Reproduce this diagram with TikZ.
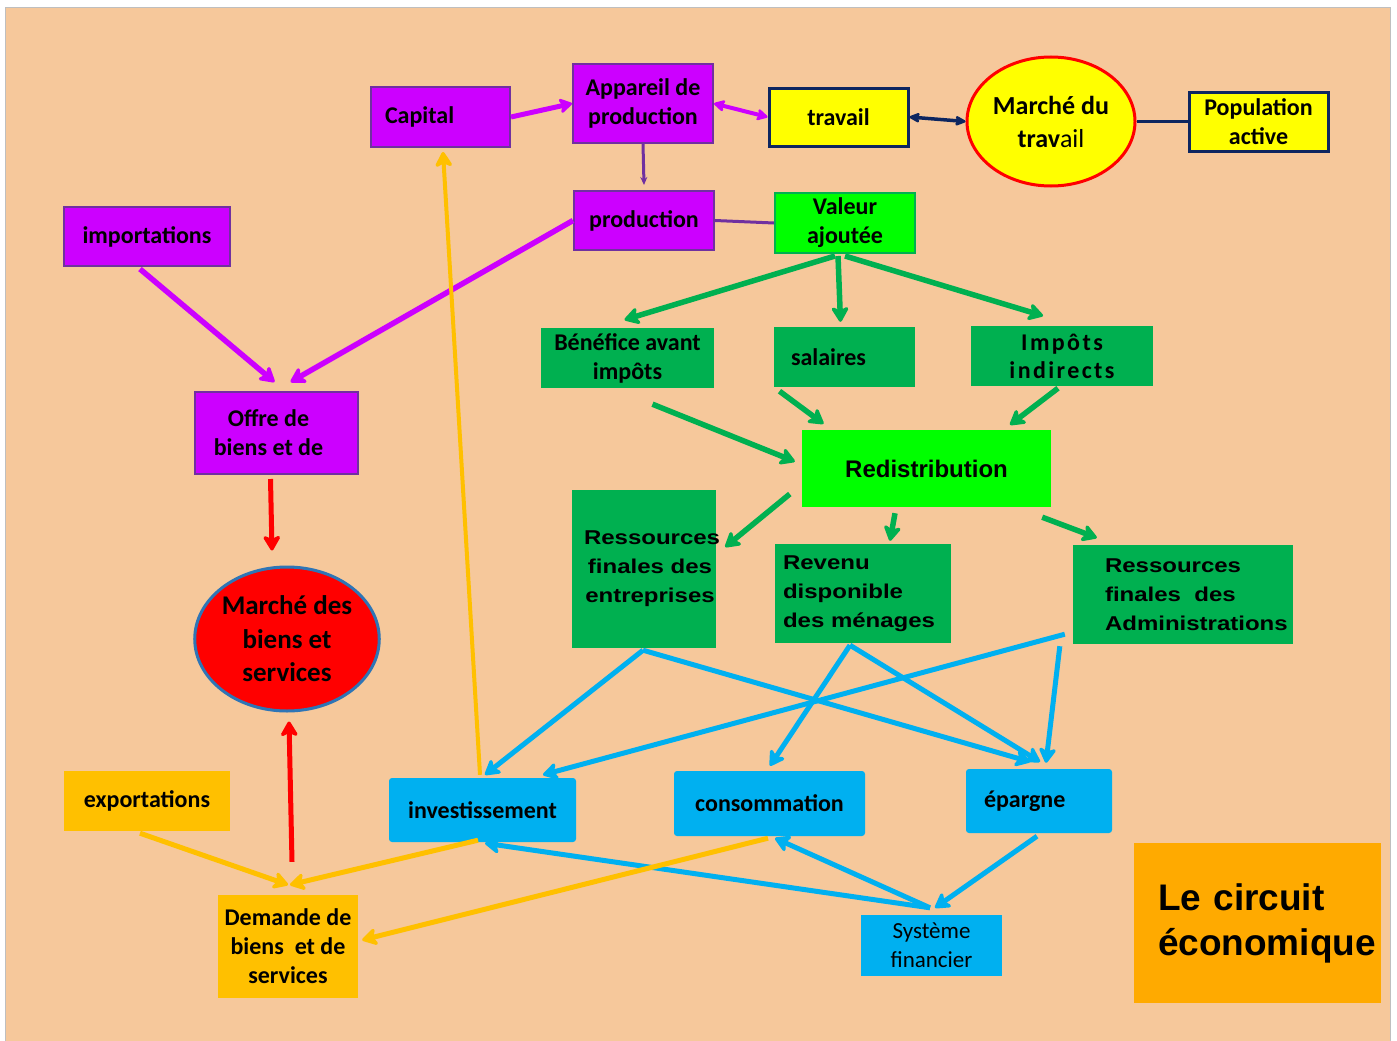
\documentclass[tikz,border=0pt]{standalone}
\usepackage{fontspec}
\setmainfont{Carlito}
\newfontfamily\arialS[FakeStretch=1.2]{Liberation Sans}
\newfontfamily\arialN{Liberation Sans}
\usetikzlibrary{arrows.meta,shapes.geometric,calc}
\definecolor{bg}{HTML}{F6C89B}
\definecolor{purp}{HTML}{CC00FF}
\definecolor{purpd}{HTML}{7030A0}
\definecolor{yel}{HTML}{FFFF00}
\definecolor{navy}{HTML}{0D2660}
\definecolor{lgreen}{HTML}{00FF00}
\definecolor{dgreen}{HTML}{00B050}
\definecolor{cyanb}{HTML}{00B0F0}
\definecolor{gold}{HTML}{FFC000}
\definecolor{orng}{HTML}{FFAA00}
\definecolor{ellb}{HTML}{2E75B6}
\newcommand\cbf{\fontsize{24}{29}\selectfont\bfseries}
\tikzset{
  box/.style={rectangle, inner sep=0pt, align=center, font=\cbf, text=black},
  pbox/.style={box, fill=purp, draw=purpd, line width=2pt},
  ybox/.style={box, fill=yel, draw=navy, line width=3pt},
  gbox/.style={box, fill=dgreen},
  lgbox/.style={box, fill=lgreen, draw=dgreen, line width=2pt},
  bbox/.style={box, fill=cyanb, rounded corners=3pt},
  obox/.style={box, fill=gold},
  afont/.style={font=\arialS\fontsize{20}{29}\selectfont\bfseries},
  tip/.style={-{Stealth[length=18pt,width=21pt,inset=5pt,round]}},
  pa/.style={tip, draw=purp, line width=5.5pt},
  ga/.style={tip, draw=dgreen, line width=5.5pt},
  ba/.style={tip, draw=cyanb, line width=5pt},
  ya/.style={tip, draw=gold, line width=5pt},
  ra/.style={tip, draw=red, line width=5pt},
}
\begin{document}
\begin{tikzpicture}[x=1pt,y=-1pt]
\useasboundingbox (0,0) rectangle (1397,1041);
\fill[white] (0,0) rectangle (1397,1041);
\fill[bg] (5,7) rectangle (1390,1041);
\draw[black!25, line width=0.8pt] (5,1041) -- (5,7) -- (1390,7) -- (1390,1041);

% nodes
\node[pbox, minimum width=139, minimum height=60, text width=111pt, inner xsep=14pt, align=left] (cap) at (440.5,117) {Capital};
\node[pbox, minimum width=140, minimum height=79] (app) at (643,103.5) {Appareil de\\production};
\node[ybox, minimum width=139, minimum height=58] (trav) at (838.5,117) {travail};
\node[ellipse, fill=yel, draw=red, line width=3pt, minimum width=168, minimum height=129, inner sep=0pt, align=center, font=\fontsize{26}{33}\selectfont] (mdt) at (1051,121.5) {\textbf{Marché du}\\\textbf{trav}ail};
\node[ybox, minimum width=139, minimum height=59] (pop) at (1258.5,121.5) {Population\\active};
\node[pbox, minimum width=140, minimum height=59] (prod) at (644,220.5) {production};
\node[lgbox, minimum width=140, minimum height=60] (va) at (845,223) {Valeur\\ajoutée};
\node[pbox, minimum width=166, minimum height=59] (imp) at (147,236.5) {importations};
\node[pbox, minimum width=163, minimum height=82] (off) at (276.5,433) {\hspace*{-16pt}Offre de\\\hspace*{-16pt}biens et de};
\node[gbox, minimum width=173, minimum height=60] (ben) at (627.5,358) {Bénéfice avant\\impôts};
\node[gbox, minimum width=141, minimum height=60, text width=107pt, inner xsep=17pt, align=left] (sal) at (844.5,357) {salaires};
\node[gbox, minimum width=182, minimum height=60, font=\addfontfeature{LetterSpace=10}\fontsize{24}{28}\selectfont\bfseries] (impi) at (1062,356) {Impôts\\indirects};
\node[box, fill=lgreen, minimum width=249, minimum height=77, font=\arialN\fontsize{24}{28}\selectfont\bfseries] (red) at (926.5,468.5) {Redistribution};
\node[gbox, afont, minimum width=144, minimum height=158, text width=144pt, inner xsep=0pt] (rfe) at (644,569) {\hspace*{12pt}Ressources\\\hspace*{12pt}finales des\\\hspace*{12pt}entreprises};
\node[gbox, afont, minimum width=176, minimum height=99, text width=160pt, inner xsep=8pt, align=left] (rev) at (863,593.5) {Revenu\\disponible\\des ménages};
\node[gbox, afont, minimum width=220, minimum height=99, text width=156pt, inner xsep=32pt, align=left] (rfa) at (1183,594.5) {Ressources\\finales\ \ des\\Administrations};
\node[ellipse, fill=red, draw=ellb, line width=3pt, minimum width=184, minimum height=144, inner sep=0pt, align=center, font=\fontsize{27}{33.5}\selectfont\bfseries] (mbs) at (287,639) {Marché des\\biens et\\services};
\node[obox, minimum width=166, minimum height=60] (exp) at (147,801) {exportations};
\node[bbox, minimum width=187, minimum height=64] (inv) at (482.5,810) {investissement};
\node[bbox, minimum width=191, minimum height=65] (cons) at (769.5,803.5) {consommation};
\node[bbox, minimum width=146, minimum height=64, text width=110pt, inner xsep=18pt, align=left] (ep) at (1039,801) {épargne};
\node[obox, minimum width=140, minimum height=103] (dem) at (288,946.5) {Demande de\\biens\ \ et de\\services};
\node[bbox, rounded corners=0pt, minimum width=141, minimum height=61, font=\fontsize{23}{29}\selectfont] (sys) at (931.5,945.5) {Système\\financier};
\node[box, fill=orng, minimum width=247, minimum height=160, text width=199pt, inner xsep=24pt, align=left, font=\arialN\fontsize{37}{45}\selectfont\bfseries] (ttl) at (1257.5,923) {Le circuit\\économique};

% purple / navy connectors
\draw[pa, line width=5pt, -{Stealth[length=15pt,width=18pt,inset=4pt,round]}] (cap.east) -- (app.west);
\draw[draw=purp, line width=4pt, {Stealth[length=13pt,width=14pt,inset=3pt,round]}-{Stealth[length=13pt,width=14pt,inset=3pt,round]}] (app.east) -- (trav.west);
\draw[draw=purpd, line width=3pt, -{Stealth[length=8pt,width=7pt]}] (app.south) -- ($(prod.north)+(0,-5)$);
\draw[draw=purpd, line width=3pt] (prod.east) -- (va.west);
\draw[draw=navy, line width=3.5pt, {Stealth[length=13pt,width=12pt,inset=3pt,round]}-{Stealth[length=13pt,width=12pt,inset=3pt,round]}] (trav.east) -- (mdt.west);
\draw[draw=navy, line width=3pt] (mdt.east) -- (pop.west);
\draw[pa] ($(imp.south)+(-7,2)$) -- ($(off.north)+(-2,-9)$);
\draw[pa] (prod.west) -- ($(off.north)+(14,-9)$);
% red
\draw[ra] ($(off.south)+(-6,4)$) -- ($(mbs.north)+(-15,-15)$);
\draw[ra] ($(dem.north)+(4,-33)$) -- ($(mbs.south)+(2,9)$);
% green
\draw[ga] ($(va.south)+(-10,2)$) -- ($(ben.north)+(-3,-8)$);
\draw[ga] ($(va.south)+(-7,2)$) -- ($(sal.north)+(-4,-5)$);
\draw[ga] ($(va.south)+(0,2)$) -- ($(impi.north)+(-19,-10)$);
\draw[ga] ($(ben.south)+(25,16)$) -- ($(red.west)+(-7,-7)$);
\draw[ga] ($(sal.south)+(-65,4)$) -- ($(red.north)+(-103,-6)$);
\draw[ga] ($(impi.south)+(-4,2)$) -- ($(red.north)+(83.5,-5)$);
\draw[ga] ($(red.west)+(-12,25.5)$) -- ($(rfe.east)+(9,-22)$);
\draw[ga] ($(red.south)+(-31.5,6)$) -- ($(rev.north)+(27,-3)$);
\draw[ga] ($(red.south east)+(-9,10)$) -- ($(rfa.north west)+(24,-7)$);
% blue
\draw[ba] ($(rfe.south)+(-1,2)$) -- ($(inv.north)+(2.5,-3)$);
\draw[ba] ($(rfe.south)+(-1,2)$) -- ($(ep.north)+(-9,-7)$);
\draw[ba] ($(rev.south)+(-13,2)$) -- ($(cons.north)+(0.5,-5)$);
\draw[ba] ($(rev.south)+(-13,2)$) -- ($(ep.north)+(1,-7)$);
\draw[ba] ($(rfa.south west)+(-8,-10)$) -- ($(inv.north)+(60.5,-3)$);
\draw[ba] ($(rfa.south west)+(-13,2)$) -- ($(ep.north)+(7,-6)$);
\draw[ba] ($(ep.south)+(-2,3)$) -- ($(sys.north)+(3.5,-7)$);
\draw[ba] ($(sys.north)+(-1.5,-7)$) -- ($(cons.south)+(5.5,2)$);
\draw[ba] ($(sys.north)+(-1.5,-7)$) -- ($(inv.south)+(2.5,1)$);
% yellow
\draw[ya, line width=4pt] ($(inv.north)+(-2.5,-3)$) -- ($(cap.south)+(2.5,4)$);
\draw[ya] ($(exp.south)+(-7,2)$) -- ($(dem.north)+(0,-10)$);
\draw[ya] ($(inv.south)+(-4.5,-2)$) -- ($(dem.north)+(2,-10)$);
\draw[ya] ($(cons.south)+(-1.5,2)$) -- ($(dem.east)+(4,-6.5)$);
\end{tikzpicture}
\end{document}
